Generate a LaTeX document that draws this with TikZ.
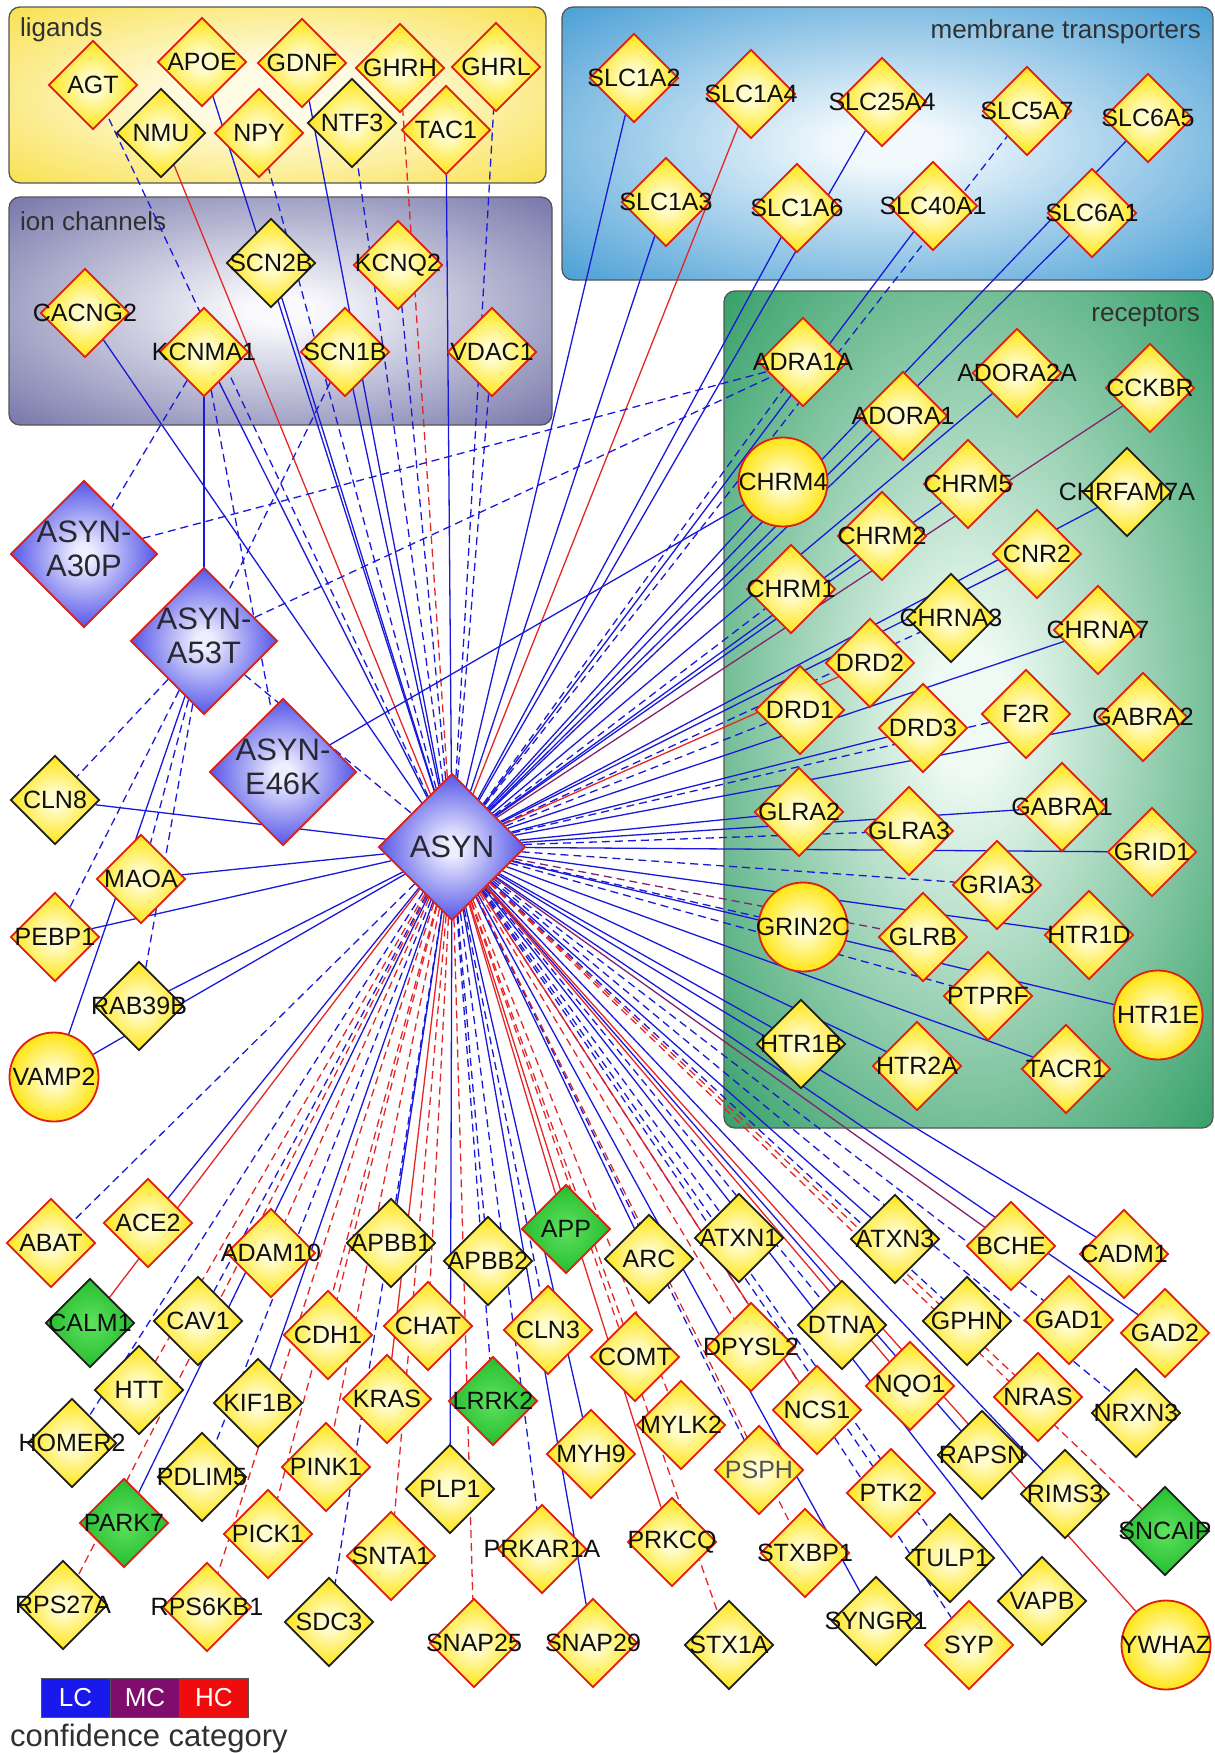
\documentclass[tikz,border=0pt]{standalone}
\usepackage{fontspec}
\setmainfont{Liberation Sans}
\usetikzlibrary{shapes.geometric}

% ---------- colours ----------
\definecolor{nodeRed}{RGB}{220,30,20}
\definecolor{nodeBlk}{RGB}{30,30,30}
\definecolor{txtBlk}{RGB}{15,15,15}
\definecolor{txtGray}{RGB}{80,80,80}
\definecolor{bigTxt}{RGB}{40,40,50}
\definecolor{edgeLC}{RGB}{25,25,215}
\definecolor{edgeHC}{RGB}{228,38,38}
\definecolor{edgeMC}{RGB}{130,35,110}
\definecolor{yelIn}{RGB}{255,252,205}
\definecolor{yelOut}{RGB}{255,228,10}
\definecolor{bluIn}{RGB}{238,238,255}
\definecolor{bluOut}{RGB}{72,72,230}
\definecolor{grnIn}{RGB}{95,225,95}
\definecolor{grnOut}{RGB}{35,188,45}
\definecolor{ligIn}{RGB}{255,252,230}
\definecolor{ligOut}{RGB}{247,220,55}
\definecolor{ionIn}{RGB}{250,250,253}
\definecolor{ionOut}{RGB}{100,100,158}
\definecolor{memIn}{RGB}{242,249,253}
\definecolor{memOut}{RGB}{50,146,208}
\definecolor{recIn}{RGB}{238,250,243}
\definecolor{recOut}{RGB}{45,156,98}
\definecolor{boxEdge}{RGB}{85,85,85}
\definecolor{boxTxt}{RGB}{48,48,48}
\definecolor{legLC}{RGB}{25,25,235}
\definecolor{legMC}{RGB}{128,12,110}
\definecolor{legHC}{RGB}{238,12,12}

% ---------- shadings ----------
\pgfdeclareradialshading{yelsh}{\pgfpoint{0bp}{0bp}}{color(0bp)=(yelIn); color(5bp)=(yelIn); color(26bp)=(yelOut); color(50bp)=(yelOut)}
\pgfdeclareradialshading{blush}{\pgfpoint{0bp}{0bp}}{color(0bp)=(bluIn); color(3bp)=(bluIn); color(27bp)=(bluOut); color(50bp)=(bluOut)}
\pgfdeclareradialshading{grnsh}{\pgfpoint{0bp}{0bp}}{color(0bp)=(grnIn); color(26bp)=(grnOut); color(50bp)=(grnOut)}
\pgfdeclareradialshading{ligsh}{\pgfpoint{0bp}{0bp}}{color(0bp)=(ligIn); color(8bp)=(ligIn); color(40bp)=(ligOut); color(50bp)=(ligOut)}
\pgfdeclareradialshading{ionsh}{\pgfpoint{0bp}{0bp}}{color(0bp)=(ionIn); color(3bp)=(ionIn); color(40bp)=(ionOut); color(50bp)=(ionOut)}
\pgfdeclareradialshading{memsh}{\pgfpoint{0bp}{0bp}}{color(0bp)=(memIn); color(4bp)=(memIn); color(40bp)=(memOut); color(50bp)=(memOut)}
\pgfdeclareradialshading{recsh}{\pgfpoint{0bp}{0bp}}{color(0bp)=(recIn); color(4bp)=(recIn); color(37bp)=(recOut); color(50bp)=(recOut)}

% ---------- layers ----------
\pgfdeclarelayer{boxes}
\pgfdeclarelayer{edges}
\pgfdeclarelayer{labels}
\pgfsetlayers{boxes,edges,main,labels}

\tikzset{
  gene/.style={diamond, aspect=1, minimum width=89pt, minimum height=89pt,
               inner sep=0pt, line width=1.8pt, shade, shading=yelsh},
  yred/.style={gene, draw=nodeRed},
  yblk/.style={gene, draw=nodeBlk},
  gred/.style={gene, shading=grnsh, draw=nodeRed},
  gblk/.style={gene, shading=grnsh, draw=nodeBlk},
  ycirc/.style={circle, minimum size=89pt, inner sep=0pt, line width=1.8pt,
                shade, shading=yelsh, draw=nodeRed},
  bigd/.style={diamond, aspect=1, minimum width=147pt, minimum height=147pt,
               inner sep=0pt, line width=1.8pt, shade, shading=blush, draw=nodeRed},
  lbl/.style={inner sep=0pt, text=txtBlk, font=\fontsize{25}{27}\selectfont},
  biglbl/.style={inner sep=0pt, text=bigTxt, align=center, font=\fontsize{31}{34}\selectfont},
  box/.style={shade, draw=boxEdge, line width=1.3pt, rounded corners=11pt},
  boxlbl/.style={inner sep=0pt, text=boxTxt, font=\fontsize{26}{28}\selectfont},
  lc/.style={draw=edgeLC, line width=1.3pt},
  lcd/.style={lc, dash pattern=on 8pt off 5pt},
  hc/.style={draw=edgeHC, line width=1.3pt},
  hcd/.style={hc, dash pattern=on 8pt off 5pt},
  mc/.style={draw=edgeMC, line width=1.3pt},
  mcd/.style={mc, dash pattern=on 8pt off 5pt},
  leg/.style={draw=boxEdge, line width=1pt, minimum width=69pt, minimum height=39pt,
              inner sep=0pt, text=white, font=\fontsize{26}{28}\selectfont},
}

\begin{document}
\begin{tikzpicture}[x=1pt, y=-1pt]
\useasboundingbox (0,0) rectangle (1215,1753);

% ---------- category panels ----------
\begin{pgfonlayer}{boxes}
  \path[box, shading=ligsh] (9,7) rectangle (546,183);
  \path[box, shading=ionsh] (9,197) rectangle (552,425);
  \path[box, shading=memsh] (562,7) rectangle (1213,280);
  \path[box, shading=recsh] (724,291) rectangle (1213,1128);
  \node[boxlbl, anchor=base west] (ligT) at (20,37) {ligands};
  \node[boxlbl, anchor=base west] (ionT) at (20,230) {ion channels};
  \node[boxlbl, anchor=base east] (memT) at (1201,39) {membrane transporters};
  \node[boxlbl, anchor=base east] (recT) at (1200,321) {receptors};
\end{pgfonlayer}

% ---------- alpha-synuclein and its variants ----------
\node[bigd] (ASYN) at (452,847) {};
\node[bigd] (ASYNA30P) at (84,554) {};
\node[bigd] (ASYNA53T) at (204,641) {};
\node[bigd] (ASYNE46K) at (283,772) {};

% ---------- ligands ----------
\node[yred] (AGT) at (93,85) {};
\node[yred] (APOE) at (202,62) {};
\node[yred] (GDNF) at (302,63) {};
\node[yred] (GHRH) at (400,68) {};
\node[yred] (GHRL) at (496,67) {};
\node[yblk] (NMU) at (161,133) {};
\node[yred] (NPY) at (259,133) {};
\node[yblk] (NTF3) at (352,123) {};
\node[yred] (TAC1) at (446,130) {};

% ---------- ion channels ----------
\node[yblk] (SCN2B) at (271,263) {};
\node[yred] (KCNQ2) at (398,265) {};
\node[yred] (CACNG2) at (85,313) {};
\node[yred] (KCNMA1) at (204,352) {};
\node[yred] (SCN1B) at (345,352) {};
\node[yred] (VDAC1) at (492,352) {};

% ---------- membrane transporters ----------
\node[yred] (SLC1A2) at (634,78) {};
\node[yred] (SLC1A4) at (751,94) {};
\node[yred] (SLC25A4) at (882,102) {};
\node[yred] (SLC5A7) at (1027,111) {};
\node[yred] (SLC6A5) at (1148,118) {};
\node[yred] (SLC1A3) at (666,202) {};
\node[yred] (SLC1A6) at (797,208) {};
\node[yred] (SLC40A1) at (933,206) {};
\node[yred] (SLC6A1) at (1092,213) {};

% ---------- receptors ----------
\node[yred] (ADRA1A) at (803,362) {};
\node[yred] (ADORA2A) at (1017,373) {};
\node[yred] (CCKBR) at (1150,388) {};
\node[yred] (ADORA1) at (903,416) {};
\node[ycirc] (CHRM4) at (783,482) {};
\node[yred] (CHRM5) at (968,484) {};
\node[yblk] (CHRFAM7A) at (1127,492) {};
\node[yred] (CHRM2) at (882,536) {};
\node[yred] (CNR2) at (1037,554) {};
\node[yred] (CHRM1) at (791,589) {};
\node[yblk] (CHRNA3) at (951,618) {};
\node[yred] (CHRNA7) at (1098,630) {};
\node[yred] (DRD2) at (870,663) {};
\node[yred] (DRD1) at (800,710) {};
\node[yred] (DRD3) at (923,728) {};
\node[yred] (F2R) at (1026,714) {};
\node[yred] (GABRA2) at (1143,717) {};
\node[yred] (GLRA2) at (799,812) {};
\node[yred] (GLRA3) at (909,831) {};
\node[yred] (GABRA1) at (1062,807) {};
\node[yred] (GRID1) at (1152,852) {};
\node[yred] (GRIA3) at (997,885) {};
\node[ycirc] (GRIN2C) at (803,927) {};
\node[yred] (GLRB) at (923,937) {};
\node[yred] (HTR1D) at (1089,935) {};
\node[yred] (PTPRF) at (988,996) {};
\node[ycirc] (HTR1E) at (1158,1015) {};
\node[yblk] (HTR1B) at (801,1044) {};
\node[yred] (HTR2A) at (917,1066) {};
\node[yred] (TACR1) at (1066,1069) {};

% ---------- left group ----------
\node[yblk] (CLN8) at (55,800) {};
\node[yred] (MAOA) at (141,879) {};
\node[yred] (PEBP1) at (55,937) {};
\node[yblk] (RAB39B) at (139,1006) {};
\node[ycirc] (VAMP2) at (54,1077) {};

% ---------- lower group ----------
\node[yred] (ABAT) at (51,1243) {};
\node[yred] (ACE2) at (148,1223) {};
\node[yred] (ADAM10) at (271,1253) {};
\node[yblk] (APBB1) at (391,1243) {};
\node[yblk] (APBB2) at (488,1261) {};
\node[gred] (APP) at (566,1229) {};
\node[gblk] (CALM1) at (90,1323) {};
\node[yblk] (CAV1) at (198,1321) {};
\node[yred] (CDH1) at (328,1335) {};
\node[yred] (CHAT) at (428,1326) {};
\node[yred] (CLN3) at (548,1330) {};
\node[yblk] (HTT) at (139,1390) {};
\node[yblk] (KIF1B) at (258,1403) {};
\node[yred] (KRAS) at (387,1399) {};
\node[gred] (LRRK2) at (493,1401) {};
\node[yblk] (HOMER2) at (72,1443) {};
\node[yblk] (PDLIM5) at (202,1477) {};
\node[yred] (PINK1) at (326,1467) {};
\node[yblk] (PLP1) at (450,1489) {};
\node[yred] (MYH9) at (591,1454) {};
\node[gred] (PARK7) at (124,1523) {};
\node[yred] (PICK1) at (268,1534) {};
\node[yred] (SNTA1) at (391,1556) {};
\node[yred] (PRKAR1A) at (542,1549) {};
\node[yblk] (ARC) at (649,1259) {};
\node[yblk] (ATXN1) at (739,1238) {};
\node[yblk] (ATXN3) at (895,1239) {};
\node[yred] (BCHE) at (1011,1246) {};
\node[yred] (CADM1) at (1124,1254) {};
\node[yred] (COMT) at (635,1357) {};
\node[yred] (DPYSL2) at (751,1347) {};
\node[yblk] (DTNA) at (842,1325) {};
\node[yblk] (GPHN) at (967,1321) {};
\node[yred] (GAD1) at (1069,1320) {};
\node[yred] (GAD2) at (1165,1333) {};
\node[yred] (MYLK2) at (681,1425) {};
\node[yred] (NCS1) at (817,1410) {};
\node[yred] (NQO1) at (910,1386) {};
\node[yred] (NRAS) at (1038,1397) {};
\node[yblk] (NRXN3) at (1136,1413) {};
\node[yred] (PSPH) at (759,1470) {};
\node[yblk] (RAPSN) at (982,1455) {};
\node[yred] (PTK2) at (891,1493) {};
\node[yblk] (RIMS3) at (1065,1494) {};
\node[gblk] (SNCAIP) at (1165,1531) {};
\node[yred] (PRKCQ) at (672,1542) {};
\node[yred] (STXBP1) at (805,1553) {};
\node[yblk] (TULP1) at (950,1558) {};
\node[yblk] (RPS27A) at (63,1605) {};
\node[yred] (RPS6KB1) at (207,1607) {};
\node[yblk] (SDC3) at (329,1622) {};
\node[yred] (SNAP25) at (474,1643) {};
\node[yred] (SNAP29) at (593,1643) {};
\node[yblk] (STX1A) at (729,1645) {};
\node[yblk] (SYNGR1) at (876,1621) {};
\node[yred] (SYP) at (969,1645) {};
\node[yblk] (VAPB) at (1042,1601) {};
\node[ycirc] (YWHAZ) at (1166,1645) {};

% ---------- interactions ----------
\begin{pgfonlayer}{edges}
  % low confidence, direct
  \foreach \g in {APOE, GDNF, TAC1, SCN2B, CACNG2, KCNMA1, SCN1B,
      SLC1A2, SLC25A4, SLC6A5, SLC1A3, SLC1A6, SLC40A1, SLC6A1,
      ADORA2A, ADORA1, CHRM4, CHRM5, CHRFAM7A, CHRM2, CNR2, CHRNA7, DRD3,
      GABRA2, GLRA2, GABRA1, GRID1, HTR1D, HTR1E, HTR1B, HTR2A, TACR1,
      CLN8, MAOA, PEBP1, RAB39B, VAMP2, ACE2, APBB1, ARC, ATXN3, CADM1,
      GAD2, KIF1B, MYH9, RAPSN, RIMS3, PARK7, PLP1, SNAP29, SYNGR1, VAPB}
    \draw[lc] (ASYN) -- (\g);
  % low confidence, indirect
  \foreach \g in {AGT, GHRL, NPY, NTF3, KCNQ2, VDAC1, SLC5A7, ADRA1A,
      CHRM1, CHRNA3, DRD1, F2R, GLRA3, GRIA3, GRIN2C, PTPRF, ABAT, APBB2,
      ATXN1, CAV1, CLN3, DTNA, GPHN, GAD1, LRRK2, NRXN3, HOMER2, PDLIM5,
      PSPH, PTK2, PRKAR1A, TULP1, SDC3, SYP}
    \draw[lcd] (ASYN) -- (\g);
  % high confidence, direct
  \foreach \g in {NMU, SLC1A4, DRD2, APP, CALM1, KRAS, NCS1, NQO1, PRKCQ, YWHAZ}
    \draw[hc] (ASYN) -- (\g);
  % high confidence, indirect
  \foreach \g in {GHRH, ADAM10, CDH1, CHAT, COMT, DPYSL2, HTT, MYLK2, NRAS,
      PINK1, SNCAIP, PICK1, SNTA1, STXBP1, RPS27A, RPS6KB1, SNAP25, STX1A}
    \draw[hcd] (ASYN) -- (\g);
  % medium confidence
  \draw[mc] (ASYN) -- (CCKBR);
  \draw[mc] (ASYN) -- (BCHE);
  \draw[mcd] (ASYN) -- (GLRB);
  % variants
  \draw[lc] (KCNMA1) -- (ASYNA53T);
  \draw[lc] (ASYNE46K) -- (CHRM4);
  \draw[lc] (ASYNA53T) -- (VAMP2);
  \draw[lcd] (KCNMA1) -- (ASYNA30P);
  \draw[lcd] (KCNMA1) -- (ASYNE46K);
  \draw[lcd] (SCN1B) -- (ASYNA53T);
  \draw[lcd] (ASYNA30P) -- (ADRA1A);
  \draw[lcd] (ASYNA53T) -- (ADRA1A);
  \draw[lcd] (ASYNA53T) -- (ASYN);
  \draw[lcd] (ASYNA53T) -- (CLN8);
  \draw[lcd] (ASYNA53T) -- (PEBP1);
  \draw[lcd] (ASYNA53T) -- (MAOA);
  \draw[lcd] (ASYNA53T) -- (RAB39B);
\end{pgfonlayer}

% ---------- gene symbols ----------
\begin{pgfonlayer}{labels}
  \foreach \g in {AGT, APOE, GDNF, GHRH, GHRL, NMU, NPY, NTF3, TAC1,
      SCN2B, KCNQ2, CACNG2, KCNMA1, SCN1B, VDAC1,
      SLC1A2, SLC1A4, SLC25A4, SLC5A7, SLC6A5, SLC1A3, SLC1A6, SLC40A1, SLC6A1,
      ADRA1A, ADORA2A, CCKBR, ADORA1, CHRM4, CHRM5, CHRFAM7A, CHRM2, CNR2,
      CHRM1, CHRNA3, CHRNA7, DRD2, DRD1, DRD3, F2R, GABRA2, GLRA2, GLRA3,
      GABRA1, GRID1, GRIA3, GRIN2C, GLRB, HTR1D, PTPRF, HTR1E, HTR1B, HTR2A, TACR1,
      CLN8, MAOA, PEBP1, RAB39B, VAMP2,
      ABAT, ACE2, ADAM10, APBB1, APBB2, APP, CALM1, CAV1, CDH1, CHAT, CLN3,
      HTT, KIF1B, KRAS, LRRK2, HOMER2, PDLIM5, PINK1, PLP1, MYH9, PARK7,
      PICK1, SNTA1, PRKAR1A, ARC, ATXN1, ATXN3, BCHE, CADM1, COMT, DPYSL2,
      DTNA, GPHN, GAD1, GAD2, MYLK2, NCS1, NQO1, NRAS, NRXN3, RAPSN, PTK2,
      RIMS3, SNCAIP, PRKCQ, STXBP1, TULP1, RPS27A, RPS6KB1, SDC3, SNAP25,
      SNAP29, STX1A, SYNGR1, SYP, VAPB, YWHAZ}
    \node[lbl] (\g-l) at (\g) {\g};
  \node[lbl, text=txtGray] (PSPH-l) at (PSPH) {PSPH};
  \node[biglbl] (ASYN-l) at (ASYN) {ASYN};
  \node[biglbl] (ASYNA30P-l) at ([yshift=5pt]ASYNA30P) {ASYN-\\A30P};
  \node[biglbl] (ASYNA53T-l) at ([yshift=5pt]ASYNA53T) {ASYN-\\A53T};
  \node[biglbl] (ASYNE46K-l) at ([yshift=5pt]ASYNE46K) {ASYN-\\E46K};
\end{pgfonlayer}

% ---------- legend ----------
\node[leg, fill=legLC] (legLC) at (75.5,1697.5) {LC};
\node[leg, fill=legMC] (legMC) at (145,1697.5) {MC};
\node[leg, fill=legHC] (legHC) at (214,1697.5) {HC};
\node[inner sep=0pt, anchor=base west, text=boxTxt, font=\fontsize{31}{34}\selectfont]
  (legT) at (10,1746) {confidence category};
\end{tikzpicture}
\end{document}
